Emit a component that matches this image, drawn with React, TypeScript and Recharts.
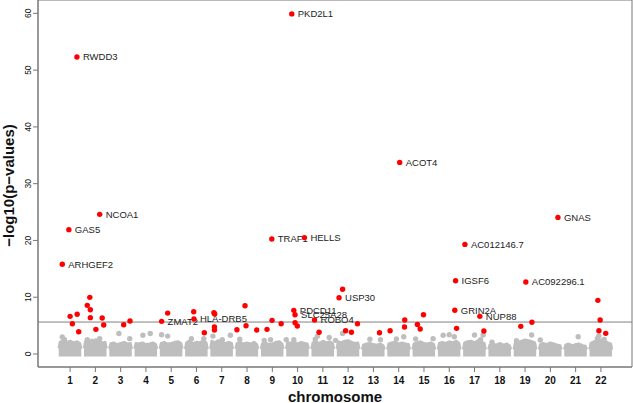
import React from 'react';
import {
  ComposedChart,
  Area,
  Scatter,
  XAxis,
  YAxis,
  ReferenceLine,
  ReferenceArea
} from 'recharts';

const chromosomes = [1, 2, 3, 4, 5, 6, 7, 8, 9, 10, 11, 12, 13, 14, 15, 16, 17, 18, 19, 20, 21, 22];
const yTicks = [0, 10, 20, 30, 40, 50, 60];

// offsets inside each chromosome block, and the top edge of the dense grey band there
const bandOffsets = [-0.45, -0.4, -0.28, -0.14, 0, 0.14, 0.28, 0.39, 0.44];
const bandTops = [
  [1.0, 2.1, 2.4, 2.0, 2.3, 2.0, 2.2, 1.9, 0.9],
  [1.0, 2.2, 2.0, 2.5, 2.1, 2.3, 2.0, 2.1, 1.0],
  [0.9, 1.8, 2.0, 1.7, 1.9, 2.1, 1.8, 1.9, 0.9],
  [0.9, 1.9, 1.8, 2.0, 1.7, 1.8, 2.0, 1.7, 0.9],
  [0.9, 1.9, 2.1, 1.8, 1.9, 2.1, 2.2, 1.9, 0.9],
  [0.9, 2.0, 2.3, 1.9, 2.1, 2.0, 2.4, 2.0, 0.9],
  [0.9, 2.3, 2.0, 2.4, 2.1, 1.9, 2.1, 1.9, 0.9],
  [0.9, 1.9, 2.1, 1.8, 2.0, 1.8, 2.1, 1.7, 0.9],
  [0.9, 1.8, 2.0, 1.7, 1.8, 2.1, 2.2, 1.8, 0.9],
  [0.9, 2.1, 1.9, 2.2, 1.8, 2.1, 1.9, 1.8, 0.9],
  [0.9, 2.0, 2.2, 1.9, 2.3, 2.0, 2.2, 1.9, 0.9],
  [0.9, 2.2, 2.0, 2.3, 2.4, 2.1, 1.9, 2.0, 0.9],
  [0.8, 1.6, 1.8, 1.9, 1.7, 1.6, 1.8, 1.5, 0.8],
  [0.8, 1.8, 2.0, 2.1, 1.8, 2.0, 1.8, 1.7, 0.8],
  [0.8, 1.8, 2.0, 2.2, 1.9, 1.8, 2.0, 1.7, 0.8],
  [0.8, 1.9, 2.1, 1.9, 2.2, 2.0, 2.3, 1.9, 0.8],
  [0.8, 2.0, 2.2, 2.3, 2.0, 2.4, 2.1, 1.9, 0.8],
  [0.8, 1.6, 1.8, 1.6, 1.9, 1.6, 1.8, 1.5, 0.8],
  [0.8, 1.9, 2.1, 2.3, 2.5, 2.4, 2.2, 2.0, 0.8],
  [0.8, 1.7, 1.9, 1.7, 2.0, 1.8, 1.6, 1.5, 0.8],
  [0.8, 1.6, 1.8, 1.5, 1.7, 1.8, 1.5, 1.4, 0.8],
  [0.8, 1.9, 2.2, 2.3, 2.5, 2.3, 2.0, 1.8, 0.8]
];
const bandBase = -0.42;

// grey points sticking out above the band [position, -log10 p]
const grayPoints: [number, number][] = [
  [0.69, 3.0], [0.78, 2.5], [1.68, 2.5], [2.17, 2.7], [2.02, 2.3], [2.93, 3.6], [3.36, 2.7],
  [3.88, 3.3], [4.17, 3.6], [4.62, 3.4], [4.86, 3.15], [5.8, 2.7], [6.29, 2.7], [6.65, 3.15],
  [7.02, 2.5], [7.34, 3.3], [7.71, 2.6], [8.93, 2.5], [8.68, 2.4], [9.85, 2.5], [9.55, 2.5],
  [10.7, 2.6], [10.79, 3.15], [11.25, 2.9], [11.5, 2.4], [11.78, 3.6], [12.86, 2.6], [13.28, 2.5],
  [13.91, 2.65], [14.2, 3.05], [14.67, 2.65], [15.36, 2.7], [15.76, 3.3], [16.2, 3.05], [16.0, 3.4],
  [17.0, 3.35], [17.34, 3.35], [17.24, 2.5], [17.69, 2.06], [18.66, 2.35], [19.26, 3.35], [19.6, 2.47],
  [21.1, 3.05], [21.86, 2.76], [21.92, 3.17], [22.13, 2.58]
];

// significant, unlabelled
const redPoints: [number, number][] = [
  [1.0, 6.63], [1.09, 5.34], [1.28, 7.0], [1.34, 3.93], [1.68, 8.57], [1.78, 9.98], [1.8, 7.8],
  [1.8, 6.4], [2.02, 4.34], [2.27, 6.34], [2.33, 5.1], [3.12, 5.16], [3.37, 5.8], [4.86, 7.2],
  [5.89, 7.45], [6.31, 3.75], [6.69, 7.28], [6.72, 7.04], [6.71, 4.75], [6.71, 4.22], [7.6, 4.28],
  [7.92, 8.5], [7.96, 4.98], [8.38, 4.22], [8.79, 4.34], [8.99, 5.93], [9.35, 5.33], [9.9, 5.51],
  [9.99, 4.93], [10.85, 3.82], [11.78, 11.4], [11.9, 4.1], [12.13, 3.82], [12.37, 5.34], [13.24, 3.75],
  [13.66, 4.1], [14.24, 5.99], [14.23, 4.75], [14.74, 5.2], [14.85, 4.4], [14.98, 6.92], [16.29, 4.52],
  [17.37, 4.05], [18.83, 4.87], [19.27, 5.58], [21.88, 9.45], [21.97, 6.0], [21.92, 4.1], [22.19, 3.64]
];

const genes = ['ARHGEF2', 'GAS5', 'RWDD3', 'NCOA1', 'ZMAT2', 'HLA-DRB5', 'TRAF1', 'PKD2L1', 'HELLS', 'PDCD11',
  'SLC25A28', 'ROBO4', 'USP30', 'ACOT4', 'IGSF6', 'GRIN2A', 'AC012146.7', 'NUP88', 'AC092296.1', 'GNAS'];
const genePos = [0.69, 0.95, 1.27, 2.17, 4.62, 5.9, 8.98, 9.77, 10.27, 9.85,
  9.9, 10.67, 11.64, 14.04, 16.25, 16.22, 16.62, 17.21, 19.03, 20.3];
const geneP = [15.8, 21.9, 52.3, 24.6, 5.75, 6.16, 20.25, 59.9, 20.5, 7.69,
  6.92, 5.99, 9.9, 33.75, 12.9, 7.7, 19.3, 6.63, 12.68, 24.06];

const threshold = 5.63;
const xDomain: [number, number] = [-0.27, 23.23];
const yDomain: [number, number] = [-2.29, 62.35];

const FONT = '"Liberation Sans", Arial, Helvetica, sans-serif';
const GREY = '#bebebe';
const RED = '#ff0000';
const FRAME = '#777777';

const bands = chromosomes.map((c, i) =>
  bandOffsets.map((o, j) => ({ x: c + o, y: bandTops[i][j] }))
);
const grayData = grayPoints.map(([x, y]) => ({ x, y }));
const redData = [...redPoints.map(([x, y]) => ({ x, y })), ...genePos.map((x, i) => ({ x, y: geneP[i] }))];
const labelData = genes.map((g, i) => ({ x: genePos[i], y: geneP[i], gene: g }));

const Dot = (color: string) => (props: any) => (
  <circle cx={props.cx} cy={props.cy} r={2.7} fill={color} />
);

const GeneLabel = (props: any) => (
  <text x={props.cx + 6} y={props.cy} dy="0.35em" fontSize={9.5} fill="#222" fontFamily={FONT}>
    {props.payload.gene}
  </text>
);

const XTick = (props: any) => {
  const { x, y, payload } = props;
  return (
    <text x={x} y={y} dy={10} textAnchor="middle" fontSize={10} fontWeight="bold" fill="#111" fontFamily={FONT}>
      {payload.value}
    </text>
  );
};

const YTick = (props: any) => {
  const { x, y, payload } = props;
  return (
    <text x={x} y={y} transform={`rotate(-90, ${x}, ${y})`} textAnchor="middle" fontSize={8.5} fill="#111" fontFamily={FONT}>
      {payload.value}
    </text>
  );
};

export default function App() {
  return (
    <div>
      <style>{'body{margin:0;background:#fff}'}</style>
      <ComposedChart width={633} height={403} margin={{ top: 0, right: 1, bottom: 0, left: 0 }}>
        <XAxis
          type="number"
          dataKey="x"
          domain={xDomain}
          allowDataOverflow
          ticks={chromosomes}
          interval={0}
          tickSize={5}
          tickLine={{ stroke: FRAME }}
          axisLine={{ stroke: FRAME }}
          tick={<XTick />}
          height={36}
          label={{
            content: (p: any) => {
              const vb = p.viewBox || { x: 38, y: 367, width: 594 };
              return (
                <text x={vb.x + vb.width / 2} y={vb.y + 34.5} textAnchor="middle" fontSize={15} fontWeight="bold" fill="#111" fontFamily={FONT}>
                  chromosome
                </text>
              );
            }
          }}
        />
        <YAxis
          type="number"
          dataKey="y"
          domain={yDomain}
          allowDataOverflow
          ticks={yTicks}
          interval={0}
          tickSize={5}
          tickLine={{ stroke: FRAME }}
          axisLine={{ stroke: FRAME }}
          tick={<YTick />}
          width={38}
          label={{
            content: (p: any) => {
              const vb = p.viewBox || { x: 0, y: 0, height: 367 };
              const cy = vb.y + vb.height / 2 + 2;
              return (
                <text x={14} y={cy} transform={`rotate(-90, 14, ${cy})`} textAnchor="middle" fontSize={15} fontWeight="bold" fill="#111" fontFamily={FONT}>
                  −log10(p−values)
                </text>
              );
            }
          }}
        />
        {bands.map((b, i) => (
          <Area
            key={`band-${i}`}
            data={b}
            dataKey="y"
            type="linear"
            baseValue={bandBase}
            stroke={GREY}
            strokeWidth={2.5}
            strokeLinejoin="round"
            fill={GREY}
            fillOpacity={1}
            isAnimationActive={false}
            dot={false}
            activeDot={false}
          />
        ))}
        <Scatter data={grayData} dataKey="y" shape={Dot(GREY)} isAnimationActive={false} />
        <ReferenceLine y={threshold} stroke="#808080" strokeWidth={1} />
        <Scatter data={labelData} dataKey="y" shape={GeneLabel} isAnimationActive={false} />
        <Scatter data={redData} dataKey="y" shape={Dot(RED)} isAnimationActive={false} />
        <ReferenceArea x1={xDomain[0]} x2={xDomain[1]} y1={yDomain[0]} y2={yDomain[1]} fill="none" stroke={FRAME} strokeWidth={1} />
      </ComposedChart>
    </div>
  );
}
